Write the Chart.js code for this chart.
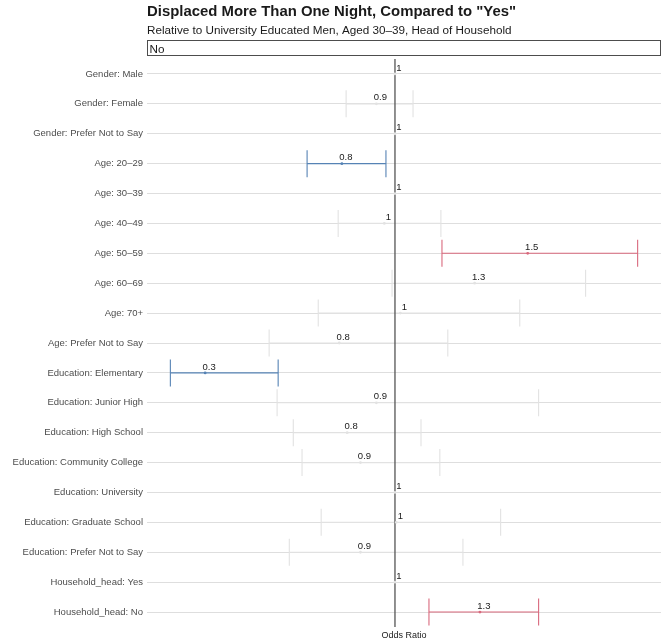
<!DOCTYPE html>
<html>
<head>
<meta charset="utf-8">
<script src="https://cdn.jsdelivr.net/npm/chart.js@4.4.1/dist/chart.umd.min.js"></script>
<style>
  html, body { margin: 0; padding: 0; background: #ffffff; overflow: hidden; }
  #wrap { width: 664px; height: 644px; position: relative; }
</style>
</head>
<body>
<div id="wrap"><canvas id="c" width="664" height="644"></canvas></div>
<script>
// ---- Data ----
const chartTitle = 'Displaced More Than One Night, Compared to "Yes"';
const chartSubtitle = 'Relative to University Educated Men, Aged 30\u201339, Head of Household';
const facetLabel = 'No';
const axisTitle = 'Odds Ratio';
const referenceOR = 1;

const categories = [
  'Gender: Male',
  'Gender: Female',
  'Gender: Prefer Not to Say',
  'Age: 20\u201329',
  'Age: 30\u201339',
  'Age: 40\u201349',
  'Age: 50\u201359',
  'Age: 60\u201369',
  'Age: 70+',
  'Age: Prefer Not to Say',
  'Education: Elementary',
  'Education: Junior High',
  'Education: High School',
  'Education: Community College',
  'Education: University',
  'Education: Graduate School',
  'Education: Prefer Not to Say',
  'Household_head: Yes',
  'Household_head: No'
];
const estimates = [1, 0.93, 1, 0.80, 1, 0.96, 1.50, 1.30, 1.02, 0.79, 0.285, 0.93, 0.82, 0.87, 1, 1.005, 0.87, 1, 1.32];
const lowerCI   = [null, 0.816, null, 0.669, null, 0.786, 1.177, 0.989, 0.711, 0.526, 0.154, 0.556, 0.617, 0.650, null, 0.722, 0.602, null, 1.128];
const upperCI   = [null, 1.068, null, 0.966, null, 1.173, 1.914, 1.718, 1.470, 1.199, 0.560, 1.541, 1.098, 1.169, null, 1.398, 1.256, null, 1.541];

// ---- Styles ----
const FONT = '"Liberation Sans", Arial, Helvetica, sans-serif';
const COL_UP = '#d9697d';
const COL_DOWN = '#5683b5';
const COL_NS = '#e2e2e2';

function sigColor(i) {
  if (lowerCI[i] == null) return COL_NS;
  if (lowerCI[i] > referenceOR) return COL_UP;
  if (upperCI[i] < referenceOR) return COL_DOWN;
  return COL_NS;
}
function fmt(v) { return String(Number(v.toFixed(1))); }

// x range: data range with 5% expansion
const allVals = estimates.concat(lowerCI.filter(v => v != null), upperCI.filter(v => v != null));
const dMin = Math.min(...allVals), dMax = Math.max(...allVals);
const xPad = (dMax - dMin) * 0.05;

const datasets = [];
// points
datasets.push({
  type: 'scatter',
  data: estimates.map((v, i) => ({x: v, y: i})),
  pointRadius: 1.4,
  pointBackgroundColor: estimates.map((v, i) => sigColor(i)),
  pointBorderColor: estimates.map((v, i) => sigColor(i)),
  pointBorderWidth: 0,
  showLine: false,
  order: 0
});
// CI segments with caps
categories.forEach((c, i) => {
  if (lowerCI[i] == null) return;
  const col = sigColor(i);
  const ns = col === COL_NS;
  datasets.push({
    type: 'scatter',
    data: [{x: lowerCI[i], y: i}, {x: upperCI[i], y: i}],
    showLine: true,
    borderColor: col,
    borderWidth: 1.1,
    pointStyle: 'line',
    pointRotation: 90,
    pointRadius: 13.5,
    pointBorderColor: col,
    pointBorderWidth: 1.1,
    order: ns ? 3 : 1
  });
});
// reference line at OR = 1
datasets.push({
  type: 'scatter',
  data: [{x: referenceOR, y: -0.5}, {x: referenceOR, y: categories.length - 0.5}],
  showLine: true,
  borderColor: '#555555',
  borderWidth: 1.3,
  pointRadius: 0,
  order: 2
});

const labelPlugin = {
  id: 'estLabels',
  afterDatasetsDraw(chart) {
    const {ctx, scales: {x, y}} = chart;
    ctx.save();
    ctx.font = '9.5px ' + FONT;
    ctx.fillStyle = '#1a1a1a';
    ctx.textAlign = 'center';
    ctx.textBaseline = 'middle';
    estimates.forEach((v, i) => {
      const px = x.getPixelForValue(v);
      const py = y.getPixelForValue(i);
      ctx.fillText(fmt(v), px + 4, py - 6);
    });
    ctx.restore();
  }
};

const headerPlugin = {
  id: 'header',
  afterDraw(chart) {
    const {ctx, chartArea} = chart;
    const L = chartArea.left, R = chartArea.right;
    ctx.save();
    ctx.fillStyle = '#1a1a1a';
    ctx.textAlign = 'left';
    ctx.textBaseline = 'alphabetic';
    ctx.font = 'bold 14.9px ' + FONT;
    ctx.fillText(chartTitle, L, 15.5);
    ctx.font = '11.7px ' + FONT;
    ctx.fillText(chartSubtitle, L, 33.5);
    // facet strip
    ctx.fillStyle = '#ffffff';
    ctx.fillRect(L, 41, R - L, 15);
    ctx.strokeStyle = '#4d4d4d';
    ctx.lineWidth = 1;
    ctx.strokeRect(Math.round(L) + 0.5, 40.5, Math.round(R - L) - 1, 15);
    ctx.fillStyle = '#1a1a1a';
    ctx.font = '11.7px ' + FONT;
    ctx.fillText(facetLabel, L + 2.5, 52.5);
    ctx.restore();
  }
};

new Chart(document.getElementById('c'), {
  type: 'scatter',
  data: { datasets },
  options: {
    responsive: false,
    animation: false,
    devicePixelRatio: 1,
    layout: { autoPadding: false, padding: { top: 59, right: 3, left: 0, bottom: 0 } },
    plugins: { legend: { display: false }, tooltip: { enabled: false } },
    scales: {
      x: {
        type: 'linear',
        min: dMin - xPad,
        max: dMax + xPad,
        ticks: { display: false },
        grid: { display: false, drawTicks: false },
        border: { display: false },
        title: { display: true, text: axisTitle, color: '#1a1a1a', font: { size: 9, family: FONT }, padding: { top: 0, bottom: 3 } },
        afterFit(s) { s.height = 17; }
      },
      y: {
        type: 'linear',
        reverse: true,
        min: -0.5,
        max: categories.length - 0.5,
        afterBuildTicks(s) { s.ticks = categories.map((c, i) => ({ value: i })); },
        afterFit(s) { s.width = 147; },
        ticks: {
          autoSkip: false,
          callback: (v) => categories[v],
          color: '#4d4d4d',
          font: { size: 9.5, family: FONT },
          padding: 4
        },
        grid: { color: '#dedede', lineWidth: 1, drawTicks: false },
        border: { display: false }
      }
    }
  },
  plugins: [labelPlugin, headerPlugin]
});
</script>
</body>
</html>
